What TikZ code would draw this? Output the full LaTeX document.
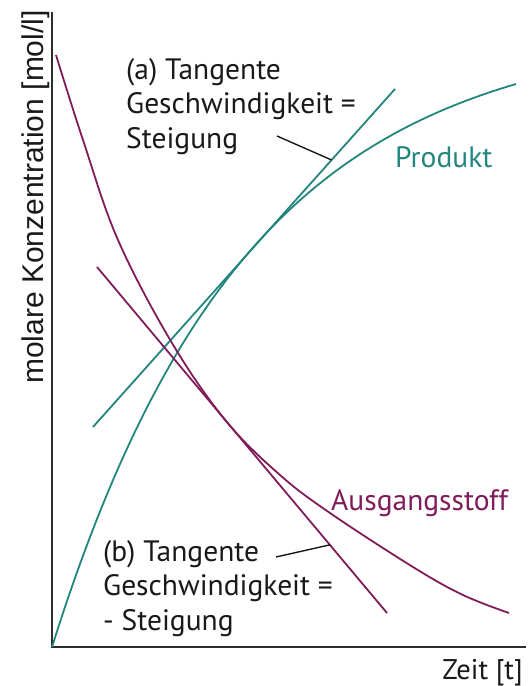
\documentclass[tikz,border=0pt]{standalone}
\usepackage{fontspec}
\setmainfont{PT Sans}
\newfontfamily\axisfont{Liberation Sans}
\usepackage{tikz}
\usetikzlibrary{calc}
\usepackage{xcolor}
\definecolor{produktteal}{RGB}{34,133,126}
\definecolor{eduktpurple}{RGB}{128,28,90}
\definecolor{axisgray}{RGB}{45,45,45}
\definecolor{textblack}{RGB}{25,25,25}

\begin{document}
\begin{tikzpicture}[
    x=1pt, y=-1pt,
    axis/.style={draw=axisgray, line width=2.4pt},
    curve/.style={line width=1.8pt},
    pointer/.style={draw=textblack, line width=1.4pt},
    lbl/.style={inner sep=0pt, align=left, text=textblack, font=\fontsize{29.5}{34.5}\selectfont},
    curvelabel/.style={inner sep=0pt, font=\fontsize{29.5}{34}\selectfont}
]
    \useasboundingbox (0,0) rectangle (528,686);

    % axes
    \coordinate (origin) at (52,647);
    \coordinate (ytop) at (52,12);
    \coordinate (xend) at (526,647);
    \draw[axis] (ytop) -- (origin) -- (xend);
    \node[rotate=90, anchor=base, inner sep=0pt, text=textblack, font=\axisfont\fontsize{30}{36}\selectfont] (ylabel) at (43,197) {molare Konzentration [mol/l]};
    \node[curvelabel, anchor=base east, text=textblack, font=\fontsize{28.5}{34}\selectfont] (xlabel) at (523,679) {Zeit [t]};

    % Produkt
    \draw[curve, produktteal] plot[domain=52:516, samples=120] (\x, {647 - 620*(1-exp(-0.00514*(\x-52)))});
    \coordinate (tanA1) at (93,427);
    \coordinate (tanA2) at (395,89);
    \draw[curve, produktteal] (tanA1) -- (tanA2);
    \node[curvelabel, anchor=base west, text=produktteal] (produkt) at (395,167) {Produkt};

    % Ausgangsstoff
    \draw[curve, eduktpurple] plot[smooth, tension=0.6] coordinates {(56,55) (83,140) (118,240) (172,343) (226,421) (280,475) (330,513) (413,567) (463,595) (509,613)};
    \coordinate (tanB1) at (97,267);
    \coordinate (tanB2) at (387,613);
    \draw[curve, eduktpurple] (tanB1) -- (tanB2);
    \node[curvelabel, anchor=base west, text=eduktpurple] (edukt) at (331,510) {Ausgangsstoff};

    % Tangenten-Beschriftung
    \node[lbl, anchor=base west] (labA) at (126,148) {(a) Tangente\\Geschwindigkeit =\\Steigung};
    \node[lbl, anchor=base west] (labB) at (103,630) {(b) Tangente\\Geschwindigkeit =\\- Steigung};
    \coordinate (ptA) at (277,136);
    \coordinate (ptB) at (276,557);
    \draw[pointer] (ptA) -- ($(tanA1)!0.79!(tanA2)$);
    \draw[pointer] (ptB) -- ($(tanB1)!0.803!(tanB2)$);
\end{tikzpicture}
\end{document}
